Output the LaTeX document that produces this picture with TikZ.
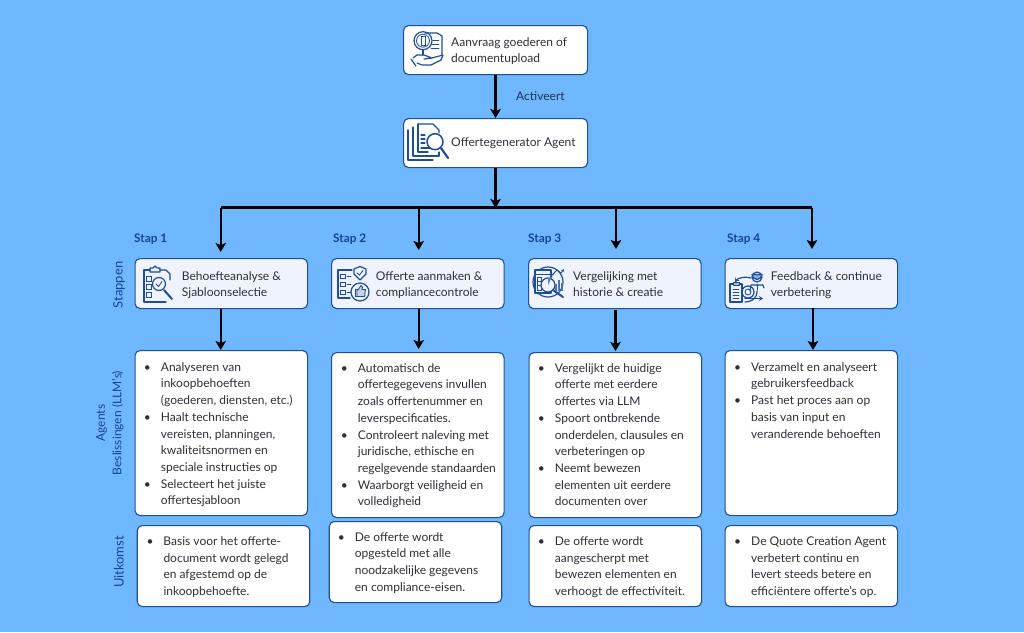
\documentclass[tikz,border=0pt]{standalone}
\usepackage{fontspec}
\setmainfont{Lato}
\usetikzlibrary{arrows.meta,backgrounds}
\definecolor{bgblue}{HTML}{6FB8FF}
\definecolor{edgeblue}{HTML}{1F4E96}
\definecolor{stepfill}{HTML}{EEF3FD}
\definecolor{txt}{HTML}{2F2F38}
\definecolor{lab}{HTML}{14439A}
\definecolor{act}{HTML}{1E3152}
\newcommand{\fl}{\rule{0pt}{10pt}}
\newcommand{\bl}{\makebox[17pt][l]{\textbullet}}
\newcommand{\nb}{\hspace*{17pt}}
\tikzset{
  whitebox/.style={draw=edgeblue,fill=white,line width=1.1pt,rounded corners=5pt,inner sep=0pt,anchor=north west},
  stepbox/.style={whitebox,fill=stepfill},
  wide/.style={minimum width=172.5pt},
  tall/.style={minimum height=165pt},
  mid/.style={minimum height=50pt},
  low/.style={minimum height=81pt},
  label/.style={inner sep=0pt,anchor=north west,align=left,text=txt,font=\fontsize{12}{16.7}\selectfont},
  stlabel/.style={inner sep=0pt,anchor=north west,text=lab,font=\fontsize{11.8}{14}\selectfont\bfseries},
  sidelabel/.style={inner sep=0pt,rotate=90,align=center,text=lab,font=\fontsize{12}{16.5}\selectfont},
  sidebig/.style={sidelabel,font=\fontsize{13}{16.5}\selectfont},
  conn/.style={line width=2.4pt,black,-{Stealth[length=9pt,width=10.5pt,inset=2pt]}},
  ic/.style={draw=edgeblue,line width=1.2pt,line cap=round,line join=round},
  ict/.style={draw=edgeblue,line width=0.85pt,line cap=round},
}
\begin{document}
\begin{tikzpicture}[x=1pt,y=-1pt]
\useasboundingbox (0,0) rectangle (1024,632);
\fill[bgblue] (0,0) rectangle (1024,632);

% Top boxes
\node[whitebox,minimum width=184pt,minimum height=49pt] (req) at (403,25) {};
\node[whitebox,minimum width=184pt,minimum height=49pt] (agent) at (403,118) {};

% Steps
\node[stepbox,wide,mid] (s1) at (134.5,258) {};
\node[stepbox,wide,mid] (s2) at (331,258) {};
\node[stepbox,wide,mid] (s3) at (528,258) {};
\node[stepbox,wide,mid] (s4) at (724.5,258) {};

% Agent boxes
\node[whitebox,wide,tall] (m1) at (134.5,350) {};
\node[whitebox,wide,tall] (m2) at (331,352) {};
\node[whitebox,wide,tall] (m3) at (528.5,352) {};
\node[whitebox,wide,tall] (m4) at (724.5,350) {};

% Outcome boxes
\node[whitebox,wide,low] (b1) at (136.7,525) {};
\node[whitebox,wide,low] (b2) at (328.7,521) {};
\node[whitebox,wide,low] (b3) at (528.5,525) {};
\node[whitebox,wide,low] (b4) at (724.5,525) {};

% Connector coordinates
\coordinate (busm) at (495,207.5);
\coordinate (bus1) at (220.7,207.5);
\coordinate (bus2) at (418.7,207.5);
\coordinate (bus3) at (616,207.5);
\coordinate (bus4) at (812,207.5);
\coordinate (c3) at (615.5,310);
\coordinate (c4) at (813,308);
\coordinate (t1) at (219.5,519.5);
\coordinate (t2) at (417,520);
\coordinate (t3) at (614,520.5);
\coordinate (t4) at (812,518);

\draw[conn] (req.south) -- (agent.north);
\draw[conn,shorten >=-0.5pt] (agent.south) -- (agent.south |- busm);
\draw[line width=2.4pt,black] (bus1) -- (bus4);
\draw[conn,shorten >=6pt] (bus1) -- (bus1 |- s1.north);
\draw[conn,shorten >=8pt] (bus2) -- (bus2 |- s2.north);
\draw[conn,shorten >=9pt] (bus3) -- (bus3 |- s3.north);
\draw[conn,shorten >=9pt] (bus4) -- (bus4 |- s4.north);
\draw[conn] (bus1 |- s1.south) -- (bus1 |- m1.north);
\draw[conn,shorten >=3pt] (bus2 |- s2.south) -- (bus2 |- m2.north);
\draw[conn,shorten >=1pt] (c3) -- (c3 |- m3.north);
\draw[conn] (c4) -- (c4 |- m4.north);
\begin{scope}[on background layer]
\fill[bgblue] (0,0) rectangle (1024,632);
\draw[conn] (t1 |- m1.center) -- (t1);
\draw[conn] (t2 |- m2.center) -- (t2);
\draw[conn] (t3 |- m3.center) -- (t3);
\draw[conn] (t4 |- m4.center) -- (t4);
\end{scope}

% Connector label
\node[inner sep=0pt,anchor=north west,text=act,font=\fontsize{12}{14}\selectfont] (lact) at (516,90) {\rule{0pt}{10pt}Activeert};

% Texts top
\node[label] (treq) at (451,36) {\fl Aanvraag goederen of\\documentupload};
\node[label] (tagent) at (451,136.6) {\fl Offertegenerator Agent};

% Step headings
\node[stlabel] (st1) at (134,232.5) {\fl Stap 1};
\node[stlabel] (st2) at (333,232.5) {\fl Stap 2};
\node[stlabel] (st3) at (528,232.5) {\fl Stap 3};
\node[stlabel] (st4) at (727,232.5) {\fl Stap 4};

% Step texts
\node[label] (ts1) at (181.7,270) {\fl Behoefteanalyse \&\\Sjabloonselectie};
\node[label] (ts2) at (375.7,270) {\fl Offerte aanmaken \&\\compliancecontrole};
\node[label] (ts3) at (573,270) {\fl Vergelijking met\\historie \& creatie};
\node[label] (ts4) at (770.7,270) {\fl Feedback \& continue\\verbetering};

% Agent texts
\node[label] (tm1) at (143.7,361) {\fl\bl Analyseren van\\\nb inkoopbehoeften\\\nb (goederen, diensten, etc.)\\\bl Haalt technische\\\nb vereisten, planningen,\\\nb kwaliteitsnormen en\\\nb speciale instructies op\\\bl Selecteert het juiste\\\nb offertesjabloon};
\node[label] (tm2) at (340.7,362) {\fl\bl Automatisch de\\\nb offertegegevens invullen\\\nb zoals offertenummer en\\\nb leverspecificaties.\\\bl Controleert naleving met\\\nb juridische, ethische en\\\nb regelgevende standaarden\\\bl Waarborgt veiligheid en\\\nb volledigheid};
\node[label] (tm3) at (537.7,362) {\fl\bl Vergelijkt de huidige\\\nb offerte met eerdere\\\nb offertes via LLM\\\bl Spoort ontbrekende\\\nb onderdelen, clausules en\\\nb verbeteringen op\\\bl Neemt bewezen\\\nb elementen uit eerdere\\\nb documenten over};
\node[label] (tm4) at (734,361) {\fl\bl Verzamelt en analyseert\\\nb gebruikersfeedback\\\bl Past het proces aan op\\\nb basis van input en\\\nb veranderende behoeften};

% Outcome texts
\node[label] (tb1) at (146.3,535.3) {\fl\bl Basis voor het offerte-\\\nb document wordt gelegd\\\nb en afgestemd op de\\\nb inkoopbehoefte.};
\node[label] (tb2) at (337.7,531) {\fl\bl De offerte wordt\\\nb opgesteld met alle\\\nb noodzakelijke gegevens\\\nb en compliance-eisen.};
\node[label] (tb3) at (537.7,535.3) {\fl\bl De offerte wordt\\\nb aangescherpt met\\\nb bewezen elementen en\\\nb verhoogt de effectiviteit.};
\node[label] (tb4) at (734,535.3) {\fl\bl De Quote Creation Agent\\\nb verbetert continu en\\\nb levert steeds betere en\\\nb efficiëntere offerte's op.};

% Side labels
\node[sidebig] (sl1) at (119,285) {Stappen};
\node[sidelabel] (sl2) at (110,423) {Agents\\Beslissingen (LLM's)};
\node[sidebig] (sl3) at (119,562) {Uitkomst};

% Icon: request
\draw[ic] (423,40.7) circle (9);
\draw[ict] (423,40.7) circle (6.5);
\draw[ic] (425,33) -- (437,33) -- (442,36) -- (442,55);
\draw[ict] (421,36) rectangle (425.5,45);
\draw[ict] (433,40) -- (439,40) (431,44) -- (439,44) (431,48) -- (439,48);
\draw[ic] (423,50) -- (423,55);
\draw[ic] (413,58) -- (417,55) -- (424,55) -- (432,58) -- (424,59);
\draw[ic] (432,58) -- (443,55) -- (441,60) -- (431,65) -- (422,65) -- (417,63);
\draw[ic] (411,59) -- (416,66);

% Icon: agent
\draw[ic] (408,130) -- (408,160) -- (433,160);
\draw[ic] (413,127) -- (413,156) -- (439,156) -- (439,152);
\draw[ic] (418,124) -- (433,124) -- (439,130) -- (439,133);
\draw[ic] (418,124) -- (418,152) -- (428,152);
\draw[ict,line width=1.1pt] (421,135) -- (425,135) (421,139) -- (425,139) (421,143) -- (425,143) (421,148) -- (432,148);
\draw[ic,fill=white,line width=1.5pt] (435,141.7) circle (8);
\draw[edgeblue,line width=2.2pt,line cap=round] (441,148) -- (448,158);

% Icon: step 1
\draw[ic] (150,270) -- (144,270) -- (144,302) -- (166,302);
\draw[ic] (160,270) -- (166,270) -- (170,274) -- (170,280);
\draw[ic] (150,268) -- (153,268) -- (155,266) -- (157,268) -- (160,268) -- (160,272) -- (150,272) -- cycle;
\foreach \yy in {276,284,292} \draw[ict] (146.5,\yy) rectangle (151.5,\yy+5);
\draw[ic,fill=stepfill] (159,284) circle (6.5);
\draw[ict] (156,284) -- (158.5,286.5) -- (162,281.5);
\draw[edgeblue,line width=2pt,line cap=round] (164,290) -- (172,299);

% Icon: step 2
\draw[ic] (352,270) -- (338,270) -- (338,298) -- (350,298);
\foreach \yy in {274,282,290} {\draw[ict] (340.5,\yy) rectangle (345,\yy+4.5); \draw[ict] (347,\yy+2) -- (351,\yy+2);}
\draw[ic,fill=stepfill] (360,266.5) -- (366,269) -- (366,274) -- (360,280) -- (354,274) -- (354,269) -- cycle;
\draw[ict] (357,273) -- (359.5,275) -- (363,270.5);
\draw[ic,fill=stepfill] (360,292) circle (9);
\draw[ict,fill=edgeblue!50] (355,289.5) rectangle (358,296.5);
\draw[ict,fill=edgeblue!25] (358,290) -- (361,285.5) -- (362.5,287) -- (362,289.5) -- (365.5,289.5) -- (364.5,296.5) -- (358,296.5);

% Icon: step 3
\draw[ic] (548,282) circle (15);
\draw[ic,fill=stepfill] (535,270) rectangle (551,293);
\draw[ict] (535,274) -- (551,274);
\draw[ict] (537.5,277.5) rectangle (541,290) (537.5,281) -- (541,281) (537.5,285) -- (541,285);
\draw[ic,fill=stepfill] (548,285) circle (7);
\fill[edgeblue!70] (548,285) -- (548,278) arc[start angle=90,end angle=0,radius=7] -- cycle;
\draw[edgeblue,line width=2pt,line cap=round] (553,290) -- (563,297);
\foreach \xx/\yy in {556/284,559/280,562/283} \draw[edgeblue!80,line width=1.2pt] (\xx,\yy) -- (\xx,291);
\draw[ict,-{Stealth[length=3pt,width=3pt]}] (551,276) -- (557,270) -- (561,273) -- (564,269);

% Icon: step 4
\draw[ic] (757,277) circle (5);
\draw[ic,fill=edgeblue!50] (752,274.5) arc[start angle=180,end angle=0,radius=5] -- cycle;
\draw[ic] (750,291) -- (751,285) -- (763,285) -- (764,288);
\draw[ict] (757,284) -- (757,290);
\draw[ic,-{Stealth[length=4pt,width=5pt]}] (751,278) .. controls (745,276) and (738,278) .. (735,282);
\draw[ic] (730,284) rectangle (742,302);
\draw[ict,fill=edgeblue!40] (733,282.5) rectangle (739,285.5);
\foreach \yy in {289,292,295,298} \draw[ict] (733,\yy) -- (739,\yy);
\draw[ic] (748,292) circle (6);
\draw[ict] (748,292) circle (3);
\draw[ic] (745,302) .. controls (751,302) and (757,299) .. (757,291);
\draw[ic,-{Stealth[length=4pt,width=5pt]}] (745,298.5) -- (763,298.5);
\end{tikzpicture}
\end{document}
